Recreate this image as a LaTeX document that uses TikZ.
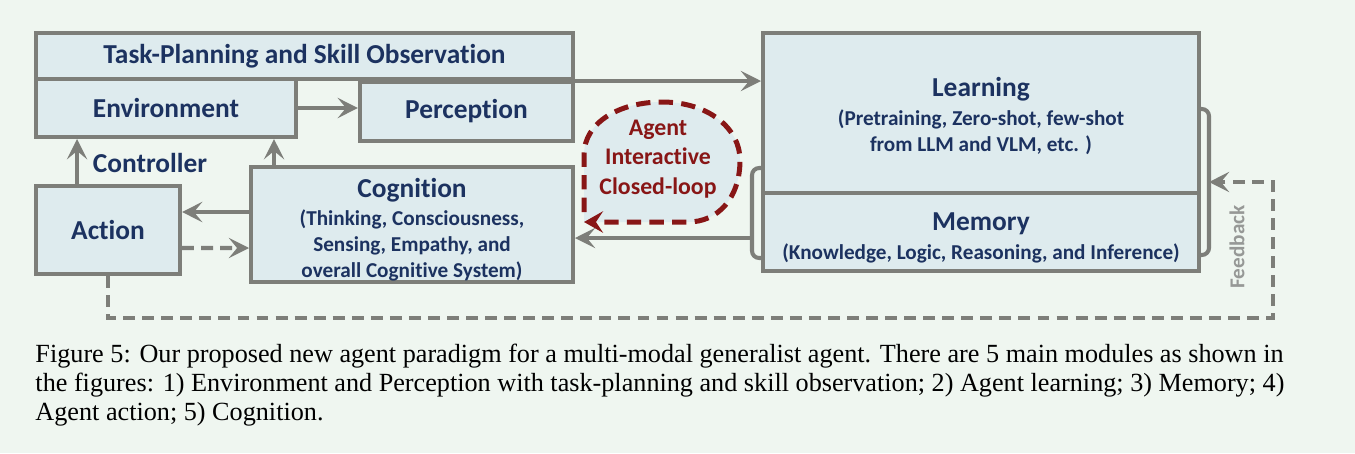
\documentclass[tikz,border=0pt]{standalone}
\usepackage{fontspec}
\setmainfont{Liberation Serif}
\newfontfamily\diagfont[Ligatures=NoCommon]{Carlito}
\usetikzlibrary{positioning}
\usetikzlibrary{arrows.meta}
\usetikzlibrary{calc}

\definecolor{bgmint}{RGB}{239,246,240}
\definecolor{boxfill}{RGB}{222,235,238}
\definecolor{boxline}{RGB}{125,126,121}
\definecolor{navytext}{RGB}{28,50,96}
\definecolor{loopred}{RGB}{136,22,22}
\definecolor{fbgrey}{RGB}{150,152,150}

\newcommand{\boxtitle}{\diagfont\bfseries\fontsize{11.5}{14}\selectfont}
\newcommand{\boxsub}{\diagfont\bfseries\fontsize{8.9}{10.9}\selectfont}
\newcommand{\loopfont}{\diagfont\bfseries\fontsize{10}{12.4}\selectfont}
\newcommand{\highstrut}{\rule{0pt}{12.3pt}}

\begin{document}
\begin{tikzpicture}[
        x=0.42pt, y=-0.42pt,
        every node/.style={text=navytext},
        box/.style={draw=boxline, fill=boxfill, line width=1.7pt, inner sep=0pt, align=center, font=\boxsub},
        line/.style={draw=boxline, line width=1.7pt},
        arr/.style={line, -{Stealth[length=8.5pt,width=8.5pt,inset=3.5pt]}},
        dasharr/.style={arr, dash pattern=on 5pt off 3pt}
    ]

        % Background
        \fill[bgmint] (0,0) rectangle (1355,453);
        \useasboundingbox (0,0) rectangle (1355,453);

        % Left blocks
        \node[box, minimum width=225.5pt, minimum height=19.3pt] (task) at (304.5,56) {\boxtitle Task-Planning and Skill Observation};
        \node[box, minimum width=109.2pt, minimum height=24.4pt] (env) at (166,108) {\boxtitle Environment};
        \node[box, minimum width=89.5pt, minimum height=24.8pt] (perc) at (466.5,111.5) {\boxtitle Perception};
        \node[box, minimum width=60.5pt, minimum height=37pt] (action) at (108,230) {\boxtitle Action};
        \node[box, minimum width=135.2pt, minimum height=48.3pt] (cog) at (412,224.5)
            {{\boxtitle\highstrut Cognition}\\[1pt] (Thinking, Consciousness,\\ Sensing, Empathy, and\\ overall Cognitive System)};

        % Right blocks
        \node[box, minimum width=183.1pt, minimum height=67.2pt] (learn) at (981,113)
            {{\boxtitle\rule{0pt}{10.6pt}Learning}\\[1pt] (Pretraining, Zero-shot, few-shot\\ from LLM and VLM, etc. )};
        \node[box, minimum width=183.1pt, minimum height=32.8pt] (mem) at (981,232)
            {{\boxtitle\highstrut Memory}\\[1pt] (Knowledge, Logic, Reasoning, and Inference)};

        % Closed loop
        \fill[boxfill] (584,222) -- (584,155) .. controls (584,122) and (620,102) .. (662,102)
            .. controls (708,102) and (740,128) .. (740,160) .. controls (740,198) and (718,222) .. (688,222) -- cycle;
        \draw[loopred, line width=2.1pt, dash pattern=on 6pt off 3.5pt, -{Stealth[length=8pt,width=9pt,inset=3pt]}]
            (584,212) -- (584,155) .. controls (584,122) and (620,102) .. (662,102)
            .. controls (708,102) and (740,128) .. (740,160) .. controls (740,198) and (718,222) .. (688,222) -- (584,222);

        % Labels
        \node[font=\boxtitle] (ctrl) at (150,163) {Controller};
        \node[font=\loopfont, text=loopred, align=center] (loop) at (658,159) {Agent\\ Interactive\\ Closed-loop};
        \node[font=\boxsub, text=fbgrey, rotate=90] (fblabel) at (1237,247) {Feedback};

        % Arrows
        \draw[arr] (env.east) -- (perc.west |- env.east);
        \draw[arr] (task.south east) -- (learn.west |- task.south east);
        \draw[arr] ([xshift=-13pt]action.north) -- ([xshift=-13pt]action.north |- env.south);
        \draw[arr] ([xshift=10.5pt]cog.north west) -- ([xshift=10.5pt]cog.north west |- env.south);
        \draw[arr] ($(cog.west)+(0,-12.5)$) -- ($(action.east)+(0,-18)$);
        \draw[dasharr] ($(action.east)+(0,18)$) -- ($(cog.west)+(0,23.5)$);

        % Brackets
        \coordinate (lbtip) at (745,238);
        \draw[line, rounded corners=3pt] (learn.west |- 0,168) -- (752,168) -- (752,258) -- (mem.west |- 0,258);
        \draw[line] (752,238) -- (lbtip);
        \draw[arr] (lbtip) -- (cog.east |- lbtip);

        \coordinate (fbend) at (1209,182);
        \coordinate (fbcorner) at (1273,318);
        \draw[line, rounded corners=3pt] (learn.east |- 0,109) -- (1209,109) -- (1209,255) -- (mem.east |- 0,255);
        \draw[dasharr] (action.south) |- (fbcorner) |- (fbend);

        % Caption
        \node[anchor=base west, text=black, font=\fontsize{11}{12}\selectfont, align=left, inner sep=0pt] (cap) at (35,420)
            {Figure 5: Our proposed new agent paradigm for a multi-modal generalist agent. There are 5 main modules as shown in\\
             the figures: 1) Environment and Perception with task-planning and skill observation; 2) Agent learning; 3) Memory; 4)\\
             Agent action; 5) Cognition.};

    \end{tikzpicture}
\end{document}
